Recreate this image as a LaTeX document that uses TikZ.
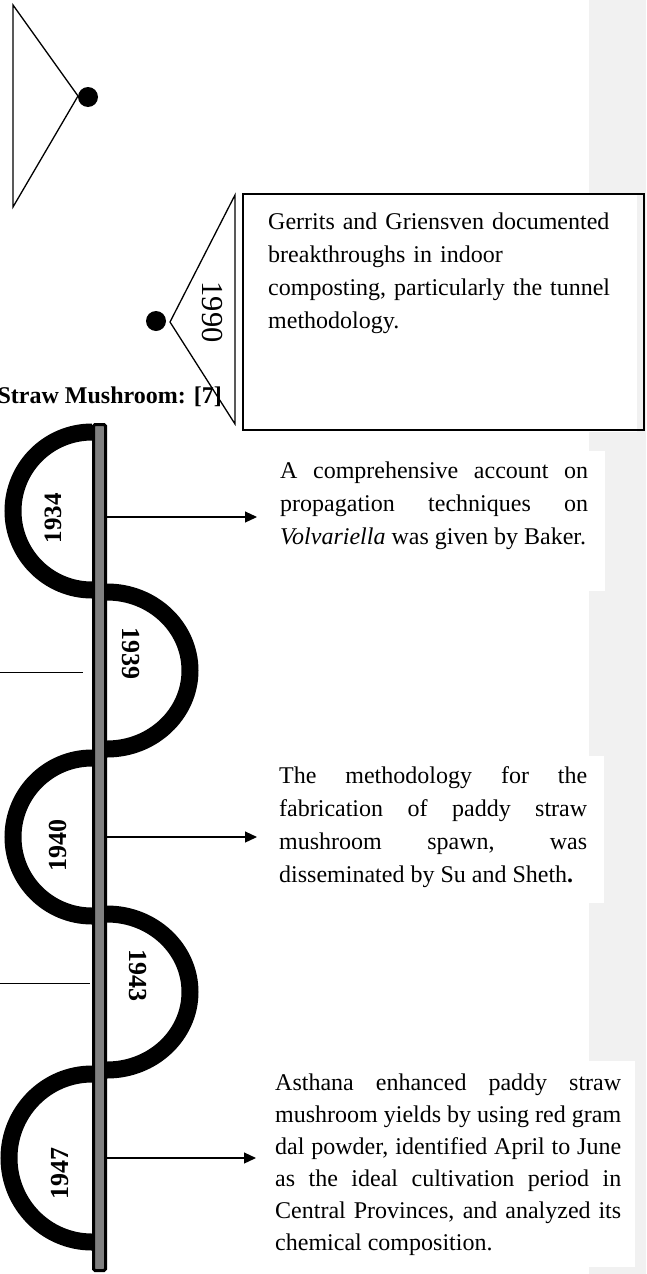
\documentclass[tikz,border=0pt]{standalone}
\usepackage{fontspec}
\setmainfont{Liberation Serif}
\usetikzlibrary{arrows.meta}
\definecolor{bargray}{HTML}{808080}
\definecolor{stripgray}{HTML}{F1F1F1}
\begin{document}
\begin{tikzpicture}[x=1pt,y=-1pt,
 bodytxt/.style={inner sep=0pt, font=\fontsize{24}{33}\selectfont, anchor=base west},
 yearlbl/.style={inner sep=0pt, font=\fontsize{26}{30}\selectfont\bfseries},
 arcline/.style={line width=17pt, line cap=butt},
 conn/.style={line width=1.2pt, -{Triangle[length=12pt,width=11pt]}},
 plainline/.style={line width=1pt},
 tri/.style={line width=1.3pt, line join=miter},
 dotc/.style={circle, fill=black, inner sep=0pt, minimum size=20pt},
 barnode/.style={draw=black, line width=3pt, fill=bargray, minimum width=12pt, minimum height=846pt, inner sep=0pt, rounded corners=1.5pt},
 panel/.style={fill=white, draw=none}
]
\useasboundingbox (0,0) rectangle (646,1274);
% background strip and white panels
\fill[stripgray] (589,0) rectangle (646,1274);
\fill[panel] (589,194) rectangle (637,432);
\fill[panel] (589,451) rectangle (605,591);
\fill[panel] (589,756) rectangle (604,903);
\fill[panel] (589,1061) rectangle (635,1267);

% top triangle with dot
\coordinate (ta) at (13,5);
\coordinate (tb) at (13,207);
\coordinate (tc) at (78,96);
\draw[tri] (ta) -- (tb) -- (tc) -- cycle;
\node[dotc] (tdot) at (88,97) {};

% 1990 triangle, dot and box
\coordinate (na) at (235,195);
\coordinate (nb) at (235,424);
\coordinate (nc) at (170,322);
\draw[tri] (na) -- (nb) -- (nc) -- cycle;
\node[dotc] (ndot) at (156,321) {};
\node[inner sep=0pt, font=\fontsize{30.5}{34}\selectfont, rotate=-90] (y1990) at (212,312) {1990};
\draw[line width=1.3pt] (243,194) rectangle (644,430);
\node[bodytxt, text width=345pt, align=left] (t1990) at (268,229)
 {Gerrits and Griensven documented\\ breakthroughs in indoor\\ composting, particularly the tunnel\\ methodology.};

% heading
\node[inner sep=0pt, font=\fontsize{24}{28}\selectfont\bfseries, anchor=base east] (head) at (222,403) {Straw Mushroom: [7]};

% arcs
\draw[arcline] (92,432) arc[start angle=270, end angle=90, radius=79];
\draw[arcline] (107,592) arc[start angle=270, end angle=450, x radius=83, y radius=78.5];
\draw[arcline] (92,758) arc[start angle=270, end angle=90, radius=79];
\draw[arcline] (107,914) arc[start angle=270, end angle=450, x radius=83, y radius=78];
\draw[arcline] (92,1074) arc[start angle=270, end angle=90, x radius=83, y radius=84];

% bar
\node[barnode] (bar) at (99.5,847.5) {};

% years
\node[yearlbl, rotate=90, font=\fontsize{25}{30}\selectfont\bfseries] (y1934) at (53,518) {1934};
\node[yearlbl, rotate=-90] (y1939) at (131,653) {1939};
\node[yearlbl, rotate=90] (y1940) at (58,845) {1940};
\node[yearlbl, rotate=-90] (y1943) at (138,975) {1943};
\node[yearlbl, rotate=90] (y1947) at (60,1173) {1947};

% texts
\node[bodytxt, text width=308pt, align=justify] (t1934) at (280,478)
 {\hbadness=10000 A comprehensive account on\linebreak propagation techniques on\linebreak \textit{Volvariella} was given by Baker.};
\node[bodytxt, text width=308pt, align=justify] (t1940) at (279,783)
 {\hbadness=10000 The methodology for the\linebreak fabrication of paddy straw\linebreak mushroom spawn, was\linebreak disseminated by Su and Sheth\textbf{.}};
\node[bodytxt, text width=346pt, align=justify, font=\fontsize{24}{32}\selectfont] (t1947) at (275,1090)
 {\hbadness=10000 Asthana enhanced paddy straw\linebreak mushroom yields by using red gram\linebreak dal powder, identified April to June\linebreak as the ideal cultivation period in\linebreak Central Provinces, and analyzed its\linebreak chemical composition.};

% connectors
\coordinate (e1) at (257,517);
\coordinate (e2) at (257,837);
\coordinate (e3) at (256,1158);
\draw[conn] (bar.east |- e1) -- (e1);
\draw[conn] (bar.east |- e2) -- (e2);
\draw[conn] (bar.east |- e3) -- (e3);
\coordinate (l1) at (0,672);
\coordinate (l2) at (83,672);
\coordinate (l3) at (0,983);
\coordinate (l4) at (90,983);
\draw[plainline] (l1) -- (l2);
\draw[plainline] (l3) -- (l4);
\end{tikzpicture}
\end{document}
